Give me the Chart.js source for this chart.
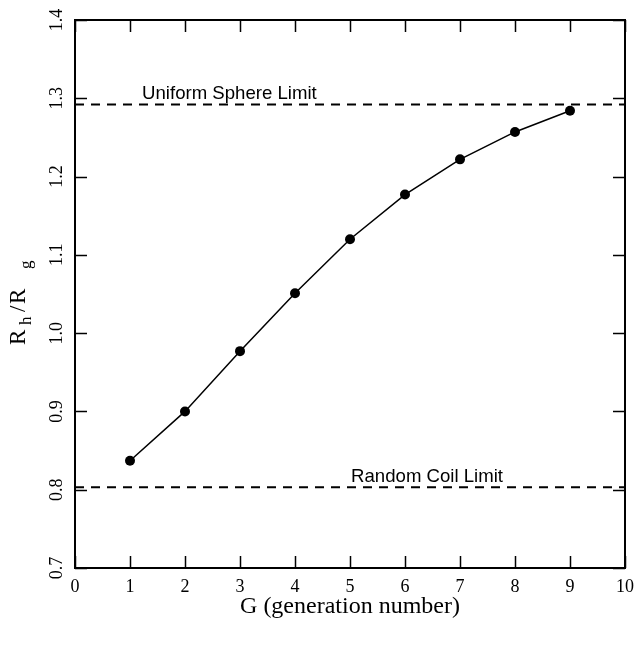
<!DOCTYPE html>
<html>
<head>
<meta charset="utf-8">
<script src="https://cdn.jsdelivr.net/npm/chart.js@4.4.1/dist/chart.umd.min.js"></script>
<style>
  html, body { margin: 0; padding: 0; background: #fff; }
</style>
</head>
<body>
<canvas id="myChart" width="634" height="647"></canvas>
<script>
// data
const generations = [1, 2, 3, 4, 5, 6, 7, 8, 9];
const ratios = [0.837, 0.900, 0.977, 1.051, 1.120, 1.177, 1.222, 1.257, 1.284];
const limitRange = [0, 10];
const sphereLimit = [1.292, 1.292];
const coilLimit = [0.803, 0.803];
const xTickValues = [0, 1, 2, 3, 4, 5, 6, 7, 8, 9, 10];
const yTickValues = [0.7, 0.8, 0.9, 1.0, 1.1, 1.2, 1.3, 1.4];
const yTickLabels = ['0.7', '0.8', '0.9', '1.0', '1.1', '1.2', '1.3', '1.4'];
const limitNames = ['Uniform Sphere Limit', 'Random Coil Limit'];

const serif = '"Liberation Serif", "Times New Roman", serif';
const sans = '"Liberation Sans", Arial, sans-serif';

const frameAndLabels = {
  id: 'frameAndLabels',
  afterDatasetsDraw(chart) {
    const ctx = chart.ctx;
    const area = chart.chartArea;
    const xs = chart.scales.x;
    const ys = chart.scales.y;
    const tick = 12;

    ctx.save();
    ctx.strokeStyle = '#000';
    ctx.lineWidth = 2;
    ctx.strokeRect(area.left, area.top, area.right - area.left, area.bottom - area.top);

    // inward ticks on all four sides
    ctx.lineWidth = 1.5;
    ctx.beginPath();
    xTickValues.forEach((v) => {
      const px = Math.round(xs.getPixelForValue(v)) + 0.5;
      ctx.moveTo(px, area.bottom);
      ctx.lineTo(px, area.bottom - tick);
      ctx.moveTo(px, area.top);
      ctx.lineTo(px, area.top + tick);
    });
    yTickValues.forEach((v) => {
      const py = Math.round(ys.getPixelForValue(v)) + 0.5;
      ctx.moveTo(area.left, py);
      ctx.lineTo(area.left + tick, py);
      ctx.moveTo(area.right, py);
      ctx.lineTo(area.right - tick, py);
    });
    ctx.stroke();

    // rotated y tick labels
    ctx.fillStyle = '#000';
    ctx.font = '18px ' + serif;
    ctx.textAlign = 'center';
    ctx.textBaseline = 'middle';
    yTickValues.forEach((v, i) => {
      const py = ys.getPixelForValue(v);
      ctx.save();
      ctx.translate(57, py);
      ctx.rotate(-Math.PI / 2);
      ctx.fillText(yTickLabels[i], 0, 0);
      ctx.restore();
    });

    // y axis title R_h / R_g
    ctx.save();
    ctx.translate(25, (area.top + area.bottom) / 2);
    ctx.rotate(-Math.PI / 2);
    ctx.textAlign = 'left';
    ctx.textBaseline = 'alphabetic';
    const big = '23px ' + serif;
    const small = '17px ' + serif;
    ctx.font = big;   ctx.fillText('R', -51, 0);
    ctx.font = small; ctx.fillText('h', -31, 6);
    ctx.font = big;   ctx.fillText('/', -18, 0);
    ctx.font = big;   ctx.fillText('R', -10, 0);
    ctx.font = small; ctx.fillText('g', 25, 6);
    ctx.restore();

    // limit labels
    ctx.font = '18.6px ' + sans;
    ctx.textAlign = 'left';
    ctx.textBaseline = 'alphabetic';
    ctx.fillText(limitNames[0], xs.getPixelForValue(1.22), ys.getPixelForValue(sphereLimit[0]) - 6);
    ctx.fillText(limitNames[1], xs.getPixelForValue(5.02), ys.getPixelForValue(coilLimit[0]) - 5);
    ctx.restore();
  }
};

const ctx = document.getElementById('myChart').getContext('2d');
const myChart = new Chart(ctx, {
  type: 'scatter',
  data: {
    datasets: [
      {
        data: generations.map((g, i) => ({ x: g, y: ratios[i] })),
        showLine: true,
        borderColor: '#000',
        borderWidth: 1.5,
        pointRadius: 5,
        pointBackgroundColor: '#000',
        pointBorderColor: '#000',
        pointBorderWidth: 0
      },
      {
        data: limitRange.map((x, i) => ({ x: x, y: sphereLimit[i] })),
        showLine: true,
        borderColor: '#000',
        borderWidth: 2,
        borderDash: [9, 7],
        pointRadius: 0
      },
      {
        data: limitRange.map((x, i) => ({ x: x, y: coilLimit[i] })),
        showLine: true,
        borderColor: '#000',
        borderWidth: 2,
        borderDash: [9, 7],
        pointRadius: 0
      }
    ]
  },
  options: {
    responsive: false,
    animation: false,
    layout: { padding: { top: 20, right: 9, left: 0, bottom: 0 } },
    plugins: {
      legend: { display: false },
      tooltip: { enabled: false }
    },
    scales: {
      x: {
        type: 'linear',
        min: 0,
        max: 10,
        afterBuildTicks: (s) => { s.ticks = xTickValues.map((v) => ({ value: v })); },
        afterFit: (s) => { s.height = 79; s.paddingLeft = 0; s.paddingRight = 0; },
        grid: { display: false, drawTicks: false },
        border: { display: false },
        ticks: {
          color: '#000',
          font: { family: serif, size: 18 },
          padding: 8,
          maxRotation: 0,
          callback: (v) => String(v)
        },
        title: {
          display: true,
          text: 'G (generation number)',
          color: '#000',
          font: { family: serif, size: 24 },
          padding: { top: 0, bottom: 26 }
        }
      },
      y: {
        type: 'linear',
        min: 0.7,
        max: 1.4,
        afterBuildTicks: (s) => { s.ticks = yTickValues.map((v) => ({ value: v })); },
        afterFit: (s) => { s.width = 75; s.paddingTop = 0; s.paddingBottom = 0; },
        grid: { display: false, drawTicks: false },
        border: { display: false },
        ticks: { display: false }
      }
    }
  },
  plugins: [frameAndLabels]
});
</script>
</body>
</html>
